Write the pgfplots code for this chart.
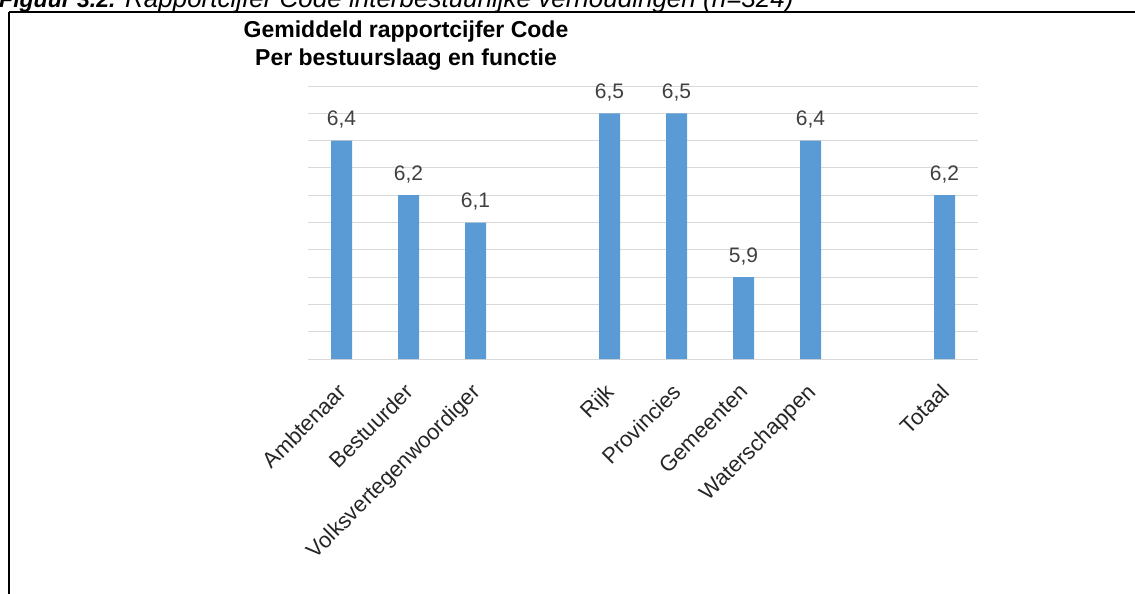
\documentclass[border=0pt]{standalone}
\usepackage{pgfplots}
\pgfplotsset{compat=1.18}
\usepackage{fontspec}
\setmainfont{Liberation Sans}
\definecolor{barblue}{HTML}{5B9BD5}
\definecolor{gridgray}{HTML}{D9D9D9}
\definecolor{txt}{HTML}{404040}
\begin{document}
\begin{tikzpicture}
\path[use as bounding box] (0pt,-594pt) rectangle (1135pt,0pt);
\node[anchor=base west, inner sep=0, font=\fontsize{26}{30}\selectfont\itshape] at (-1pt,-8pt) {{\bfseries\fontsize{23}{27}\selectfont Figuur 3.2.} Rapportcijfer Code interbestuurlijke verhoudingen (n=324)};
\draw[line width=1.5pt] (9pt,-12pt) -- (1135pt,-12pt);
\draw[line width=2pt] (9pt,-12pt) -- (9pt,-594pt);
\node[anchor=base, inner sep=0, font=\bfseries\fontsize{23}{27}\selectfont] at (406pt,-38pt) {Gemiddeld rapportcijfer Code};
\node[anchor=base, inner sep=0, font=\bfseries\fontsize{23}{27}\selectfont] at (406pt,-66pt) {Per bestuurslaag en functie};
\begin{axis}[at={(308pt,-359pt)}, anchor=south west, width=670pt, height=273pt, scale only axis,
  ymin=5.6, ymax=6.6, xmin=-0.5, xmax=9.5,
  ytick={5.6,5.7,5.8,5.9,6.0,6.1,6.2,6.3,6.4,6.5,6.6},
  yticklabels={}, ymajorgrids, major grid style={draw=gridgray, line width=1pt},
  axis line style={draw=none}, major tick length=0,
  xtick={0,1,2,4,5,6,7,9},
  xticklabels={Ambtenaar,Bestuurder,Volksvertegenwoordiger,Rijk,Provincies,Gemeenten,Waterschappen,Totaal},
  xticklabel style={xshift=-5pt, yshift=-23pt, rotate=45, anchor=north east, inner sep=0pt, font=\fontsize{22}{26}\selectfont, text=black!85},
  ybar, bar width=21pt,
  /pgf/number format/use comma, /pgf/number format/fixed, /pgf/number format/precision=1,
  /pgf/number format/fixed zerofill, /pgf/number format/assume math mode=true,
  nodes near coords,
  every node near coord/.append style={anchor=base, inner sep=0, yshift=15pt, font=\fontsize{21}{25}\selectfont, text=txt},
]
\addplot[fill=barblue, draw=none] coordinates {(0,6.4) (1,6.2) (2,6.1) (4,6.5) (5,6.5) (6,5.9) (7,6.4) (9,6.2)};
\end{axis}
\end{tikzpicture}
\end{document}
